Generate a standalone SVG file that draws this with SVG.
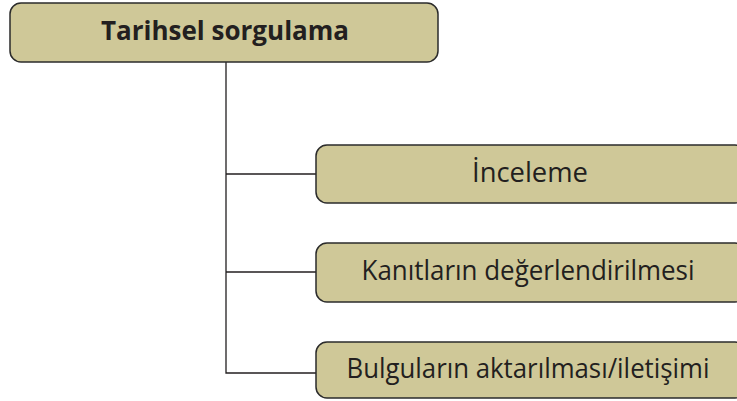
<svg xmlns="http://www.w3.org/2000/svg" width="737" height="401" viewBox="0 0 737 401">
<style>
.box{fill:#CFC898;stroke:#2b2b2b;stroke-width:1.5}
.t{font-family:"Open Sans","Noto Sans",sans-serif;fill:#231f20;text-anchor:middle;font-size:27px}
.conn{fill:none;stroke:#231f20;stroke-width:1.3}
</style>
<rect width="737" height="401" fill="#fff"/>
<g id="connectors">
<path class="conn" d="M226 62 V373 H316 M226 174 H316 M226 272 H316"/>
</g>
<g id="root">
<rect class="box" x="10" y="3" width="428" height="59" rx="11"/>
<text class="t" x="225" y="40" font-weight="bold" font-size="26" textLength="248" lengthAdjust="spacingAndGlyphs">Tarihsel sorgulama</text>
</g>
<g id="n1">
<rect class="box" x="316" y="145" width="430" height="58" rx="11"/>
<text class="t" x="530" y="182" textLength="116" lengthAdjust="spacingAndGlyphs">İnceleme</text>
</g>
<g id="n2">
<rect class="box" x="316" y="243" width="430" height="59" rx="11"/>
<text class="t" x="528" y="280" textLength="333" lengthAdjust="spacingAndGlyphs">Kanıtların değerlendirilmesi</text>
</g>
<g id="n3">
<rect class="box" x="316" y="342" width="430" height="56" rx="11"/>
<text class="t" x="528" y="378" textLength="363" lengthAdjust="spacingAndGlyphs">Bulguların aktarılması/iletişimi</text>
</g>
</svg>
